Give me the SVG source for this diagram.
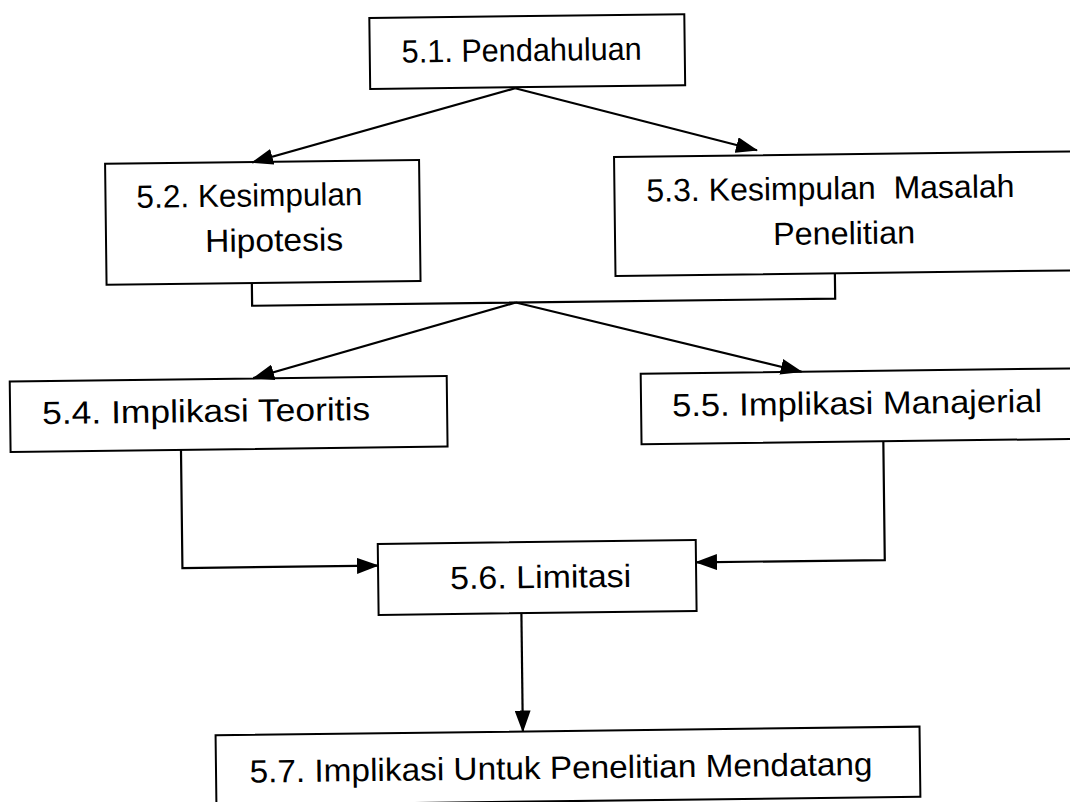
<svg xmlns="http://www.w3.org/2000/svg" width="1070" height="802" viewBox="0 0 1070 802">
  <defs>
    <style>
      .box{fill:#fff;stroke:#000;stroke-width:2}
      .lbl{font-family:"Liberation Sans",Arial,sans-serif;font-size:32px;fill:#000}
      .link{fill:none;stroke:#000;stroke-width:2.2}
    </style>
    <marker id="head" markerWidth="22" markerHeight="16" refX="21" refY="8" orient="auto" markerUnits="userSpaceOnUse">
      <path d="M0,0 L22,8 L0,16 Z" fill="#000"/>
    </marker>
  </defs>
  <rect width="1070" height="802" fill="#fff"/>
  <!-- whole chart sits at a slight tilt -->
  <g transform="rotate(-0.7 535 400)">
    <g id="n51">
      <rect class="box" x="374" y="16" width="315" height="71"/>
      <text class="lbl" x="406" y="61" textLength="240" lengthAdjust="spacingAndGlyphs">5.1. Pendahuluan</text>
    </g>
    <g id="n52">
      <rect class="box" x="108" y="158.5" width="314" height="121"/>
      <text class="lbl" x="139" y="203" textLength="226" lengthAdjust="spacingAndGlyphs">5.2. Kesimpulan</text>
      <text class="lbl" x="207" y="248" textLength="138" lengthAdjust="spacingAndGlyphs">Hipotesis</text>
    </g>
    <g id="n53">
      <rect class="box" x="617" y="158" width="480" height="119"/>
      <text class="lbl" x="649" y="203" textLength="368" lengthAdjust="spacingAndGlyphs" xml:space="preserve">5.3. Kesimpulan  Masalah</text>
      <text class="lbl" x="775" y="248" textLength="142" lengthAdjust="spacingAndGlyphs">Penelitian</text>
    </g>
    <g id="n54">
      <rect class="box" x="10" y="375" width="437" height="70.5"/>
      <text class="lbl" x="42" y="418" textLength="328" lengthAdjust="spacingAndGlyphs">5.4. Implikasi Teoritis</text>
    </g>
    <g id="n55">
      <rect class="box" x="641" y="375" width="460" height="70.5"/>
      <text class="lbl" x="672" y="418" textLength="370" lengthAdjust="spacingAndGlyphs">5.5. Implikasi Manajerial</text>
    </g>
    <g id="n56">
      <rect class="box" x="376" y="542" width="318" height="71"/>
      <text class="lbl" x="448" y="588" textLength="181" lengthAdjust="spacingAndGlyphs">5.6. Limitasi</text>
    </g>
    <g id="n57">
      <rect class="box" x="211.5" y="731.3" width="704" height="70.2"/>
      <text class="lbl" x="245" y="779" textLength="623" lengthAdjust="spacingAndGlyphs">5.7. Implikasi Untuk Penelitian Mendatang</text>
    </g>
    <g id="connectors">
      <path class="link" d="M519,88 L255,159" marker-end="url(#head)"/>
      <path class="link" d="M519,88 L760,153" marker-end="url(#head)"/>
      <path class="link" d="M253.3,279.5 V302.3 H836.4 V277"/>
      <path class="link" d="M517,302.3 L253.5,374.7" marker-end="url(#head)"/>
      <path class="link" d="M517,302.3 L802,375" marker-end="url(#head)"/>
      <path class="link" d="M180.4,445.5 V563.7 H376" marker-end="url(#head)"/>
      <path class="link" d="M882.8,445.5 V564.3 H694" marker-end="url(#head)"/>
      <path class="link" d="M518.8,613 V731.3" marker-end="url(#head)"/>
    </g>
  </g>
</svg>
